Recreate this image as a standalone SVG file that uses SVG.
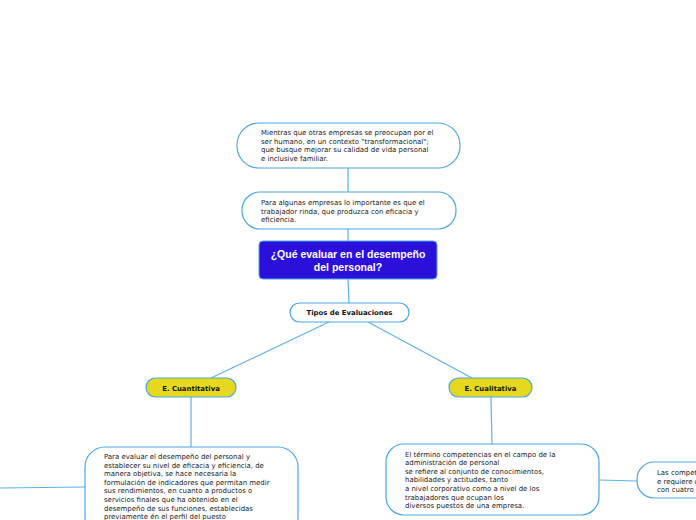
<svg xmlns="http://www.w3.org/2000/svg" width="696" height="520" viewBox="0 0 696 520">
<style>
.n{fill:#fff;stroke:#4aa8e6;stroke-width:1.2}
.y{fill:#e6d81c;stroke:#4aa8e6;stroke-width:1.2}
.c{fill:none;stroke:#5ab4e8;stroke-width:1.2}
.t{font-family:"DejaVu Sans",Verdana,sans-serif;font-size:6.95px;fill:#222}
.b{font-family:"DejaVu Sans",Verdana,sans-serif;font-size:6.9px;font-weight:bold;fill:#111}
.w{font-family:"Liberation Sans",Arial,sans-serif;font-size:10.5px;font-weight:bold;fill:#fff}
</style>
<rect width="696" height="520" fill="#fff"/>
<g id="connectors">
<line class="c" x1="348" y1="168" x2="348" y2="192"/>
<line class="c" x1="348" y1="229" x2="348" y2="241"/>
<line class="c" x1="348" y1="279" x2="349" y2="303"/>
<line class="c" x1="329" y1="322" x2="211" y2="378"/>
<line class="c" x1="368" y1="322" x2="472" y2="378"/>
<line class="c" x1="191" y1="397" x2="191" y2="447"/>
<line class="c" x1="491" y1="397" x2="492" y2="444"/>
<line class="c" x1="85" y1="487" x2="0" y2="488"/>
<line class="c" x1="599" y1="480" x2="637" y2="481"/>
</g>
<g id="n1">
<rect class="n" x="237" y="123" width="223" height="45" rx="22"/>
<text class="t" x="261" y="135">Mientras que otras empresas se preocupan por el</text>
<text class="t" x="261" y="143.7">ser humano, en un contexto "transformacional";</text>
<text class="t" x="261" y="152.4">que busque mejorar su calidad de vida personal</text>
<text class="t" x="261" y="161.1">e inclusive familiar.</text>
</g>
<g id="n2">
<rect class="n" x="242" y="192" width="214" height="37" rx="18"/>
<text class="t" x="261" y="205">Para algunas empresas lo importante es que el</text>
<text class="t" x="261" y="213.7">trabajador rinda, que produzca con eficacia y</text>
<text class="t" x="261" y="222.4">eficiencia.</text>
</g>
<g id="central">
<rect x="259" y="241" width="178" height="38" rx="4" fill="#2b10dc" stroke="#4aa8e6" stroke-width="1"/>
<text class="w" x="348" y="258" text-anchor="middle">¿Qué evaluar en el desempeño</text>
<text class="w" x="348" y="271" text-anchor="middle">del personal?</text>
</g>
<g id="tipos">
<rect class="n" x="290" y="303" width="119" height="19" rx="9.5"/>
<text class="b" x="349.5" y="315" text-anchor="middle">Tipos de Evaluaciones</text>
</g>
<g id="cuanti">
<rect class="y" x="146" y="378" width="90" height="19" rx="9.5"/>
<text class="b" x="191" y="390.5" text-anchor="middle">E. Cuantitativa</text>
</g>
<g id="cuali">
<rect class="y" x="449" y="378" width="83" height="19" rx="9.5"/>
<text class="b" x="490.5" y="390.5" text-anchor="middle">E. Cualitativa</text>
</g>
<g id="n3">
<rect class="n" x="85" y="447" width="213" height="90" rx="20"/>
<text class="t" x="104" y="459">Para evaluar el desempeño del personal y</text>
<text class="t" x="104" y="467.6">establecer su nivel de eficacia y eficiencia, de</text>
<text class="t" x="104" y="476.2">manera objetiva, se hace necesaria la</text>
<text class="t" x="104" y="484.8">formulación de indicadores que permitan medir</text>
<text class="t" x="104" y="493.4">sus rendimientos, en cuanto a productos o</text>
<text class="t" x="104" y="502">servicios finales que ha obtenido en el</text>
<text class="t" x="104" y="510.6">desempeño de sus funciones, establecidas</text>
<text class="t" x="104" y="519.2">previamente én el perfil del puesto</text>
</g>
<g id="n4">
<rect class="n" x="386" y="444" width="213" height="71" rx="18"/>
<text class="t" x="405" y="456.5">El término competencias en el campo de la</text>
<text class="t" x="405" y="465.1">administración de personal</text>
<text class="t" x="405" y="473.7">se refiere al conjunto de conocimientos,</text>
<text class="t" x="405" y="482.3">habilidades y actitudes, tanto</text>
<text class="t" x="405" y="490.9">a nivel corporativo como a nivel de los</text>
<text class="t" x="405" y="499.5">trabajadores que ocupan los</text>
<text class="t" x="405" y="508.1">diversos puestos de una empresa.</text>
</g>
<g id="n5">
<rect class="n" x="637" y="462" width="100" height="36" rx="17"/>
<text class="t" x="657" y="475">Las competencias</text>
<text class="t" x="657" y="483.6">e requiere que</text>
<text class="t" x="657" y="492.2">con cuatro</text>
</g>
</svg>
